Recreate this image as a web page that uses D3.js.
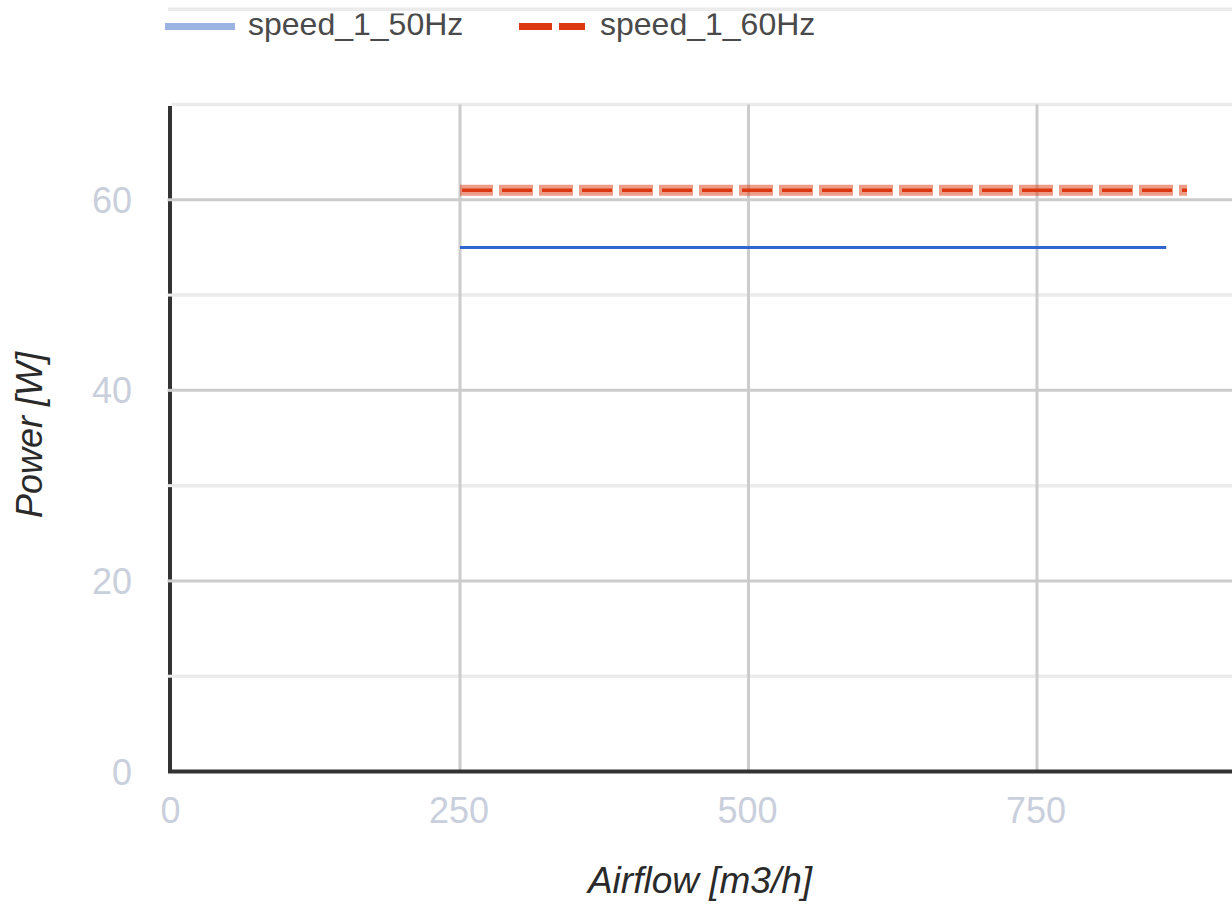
<!DOCTYPE html>
<html>
<head>
<meta charset="utf-8">
<script src="https://cdn.jsdelivr.net/npm/d3@7"></script>
<style>
	body { margin: 0; background: #ffffff; }
	svg { display: block; font-family: "Liberation Sans", Arial, sans-serif; }
</style>
</head>
<body>
<div id="chart"></div>
<script>
// power vs airflow, speed 1

var seriesNames = ["speed_1_50Hz", "speed_1_60Hz"];
var airflow50 = [250, 862];
var power50 = [55, 55];
var airflow60 = [250, 880];
var power60 = [61, 61];
var xTicks = [0, 250, 500, 750, 1000];
var yTicks = [0, 20, 40, 60];
var yMinorTicks = [10, 30, 50, 70, 80];

var width = 1232, height = 905;
// note: "top" is taken by window.top, so plot edges get their own names
var plotLeft = 171.5, plotRight = 1325.5, plotTop = 104.5, plotBottom = 771.5;

var svg = d3.select('#chart')
	.append('svg')
	.attr('width', width)
	.attr('height', height);

var x = d3.scaleLinear().domain([0, 1000]).range([plotLeft, plotRight]);
var y = d3.scaleLinear().domain([0, 70]).range([plotBottom, plotTop]);

// minor gridlines
svg.append('g')
	.selectAll('line.minor')
	.data(yMinorTicks)
	.enter()
	.append('line')
	.attr('x1', function(d){ return d == 80 ? 168 : plotLeft; })
	.attr('x2', width)
	.attr('y1', function(d){ return y(d); })
	.attr('y2', function(d){ return y(d); })
	.attr('stroke', '#ebebeb')
	.attr('stroke-width', 3.5);

// major gridlines
svg.append('g')
	.selectAll('line.hmajor')
	.data(yTicks.slice(1))
	.enter()
	.append('line')
	.attr('x1', plotLeft)
	.attr('x2', width)
	.attr('y1', function(d){ return y(d); })
	.attr('y2', function(d){ return y(d); })
	.attr('stroke', '#cccccc')
	.attr('stroke-width', 3);

svg.append('g')
	.selectAll('line.vmajor')
	.data(xTicks.slice(1))
	.enter()
	.append('line')
	.attr('x1', function(d){ return x(d); })
	.attr('x2', function(d){ return x(d); })
	.attr('y1', plotTop)
	.attr('y2', plotBottom)
	.attr('stroke', '#cccccc')
	.attr('stroke-width', 3);

// axis lines
svg.append('line')
	.attr('x1', x(0) - 1.5).attr('x2', x(0) - 1.5)
	.attr('y1', plotTop + 1.5).attr('y2', plotBottom)
	.attr('stroke', '#333333')
	.attr('stroke-width', 4);
svg.append('line')
	.attr('x1', x(0) - 3.5).attr('x2', width)
	.attr('y1', y(0)).attr('y2', y(0))
	.attr('stroke', '#333333')
	.attr('stroke-width', 4);

// gridlines break the y axis line
svg.append('g')
	.selectAll('line.gap')
	.data(yTicks.slice(1).concat([10, 30, 50]))
	.enter()
	.append('line')
	.attr('x1', plotLeft - 4)
	.attr('x2', plotLeft + 1)
	.attr('y1', function(d){ return y(d); })
	.attr('y2', function(d){ return y(d); })
	.attr('stroke', function(d){ return d % 20 == 0 ? '#cccccc' : '#ebebeb'; })
	.attr('stroke-width', 3);

// tick labels
svg.append('g')
	.selectAll('text.ylab')
	.data(yTicks)
	.enter()
	.append('text')
	.attr('x', 132)
	.attr('y', function(d){ return y(d) + 13; })
	.attr('text-anchor', 'end')
	.attr('font-size', 36)
	.attr('fill', '#c9cfdc')
	.text(function(d){ return d; });

svg.append('g')
	.selectAll('text.xlab')
	.data(xTicks.slice(0, 4))
	.enter()
	.append('text')
	.attr('x', function(d){ return x(d) - 1; })
	.attr('y', 823)
	.attr('text-anchor', 'middle')
	.attr('font-size', 36)
	.attr('fill', '#c9cfdc')
	.text(function(d){ return d; });

// axis titles
svg.append('text')
	.attr('x', 700)
	.attr('y', 893)
	.attr('text-anchor', 'middle')
	.attr('font-size', 37)
	.attr('font-style', 'italic')
	.attr('fill', '#2a2a2a')
	.text('Airflow [m3/h]');

svg.append('text')
	.attr('transform', 'translate(42,435) rotate(-90)')
	.attr('text-anchor', 'middle')
	.attr('font-size', 36)
	.attr('font-style', 'italic')
	.attr('fill', '#2a2a2a')
	.text('Power [W]');

// series
var line = d3.line()
	.x(function(d){ return x(d[0]); })
	.y(function(d){ return y(d[1]); });

var pts50 = d3.zip(airflow50, power50);
var pts60 = d3.zip(airflow60, power60);

// 60Hz: soft wide dash with a darker core
svg.append('path')
	.datum(pts60)
	.attr('d', line)
	.attr('fill', 'none')
	.attr('stroke', '#dc3912')
	.attr('stroke-opacity', 0.5)
	.attr('stroke-width', 11)
	.attr('stroke-dasharray', '34,6')
	.attr('stroke-dashoffset', 1);

svg.append('path')
	.datum(pts60)
	.attr('d', line)
	.attr('fill', 'none')
	.attr('stroke', '#dc3912')
	.attr('stroke-width', 3.5)
	.attr('stroke-dasharray', '30,10')
	.attr('stroke-dashoffset', -2);

svg.append('path')
	.datum(pts50)
	.attr('d', line)
	.attr('fill', 'none')
	.attr('stroke', '#3366cc')
	.attr('stroke-width', 3);

// legend
svg.append('defs')
	.append('clipPath')
	.attr('id', 'legclip')
	.append('rect')
	.attr('x', 0).attr('y', 13.5)
	.attr('width', width).attr('height', 60);

var leg = svg.append('g').attr('clip-path', 'url(#legclip)');

leg.append('line')
	.attr('x1', 165).attr('x2', 235)
	.attr('y1', 26.5).attr('y2', 26.5)
	.attr('stroke', '#9ab3e3')
	.attr('stroke-width', 7);

leg.append('line')
	.attr('x1', 519).attr('x2', 585)
	.attr('y1', 26.5).attr('y2', 26.5)
	.attr('stroke', '#dc3912')
	.attr('stroke-width', 7)
	.attr('stroke-dasharray', '33,7');

leg.selectAll('text.leg')
	.data(seriesNames)
	.enter()
	.append('text')
	.attr('x', function(d, i){ return i == 0 ? 248 : 600; })
	.attr('y', 35)
	.attr('font-size', 32)
	.attr('fill', '#4a4a4a')
	.text(function(d){ return d; });
</script>
</body>
</html>
